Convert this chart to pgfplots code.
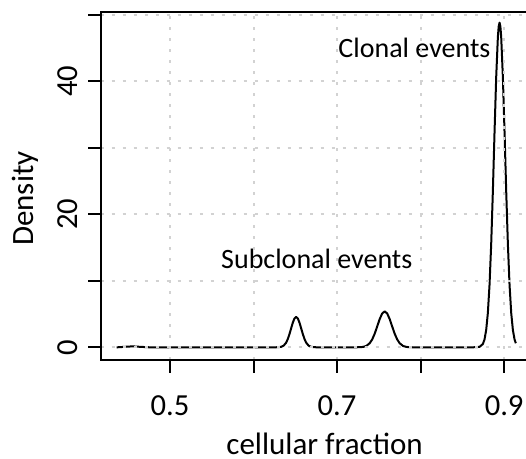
\documentclass[border=0pt]{standalone}
\usepackage{pgfplots}
\pgfplotsset{compat=1.18}
\usepackage{fontspec}
\setmainfont{Carlito}

% density of cellular fraction
\pgfplotstableread{
x y
0.436 0.00
0.446 0.08
0.455 0.15
0.464 0.08
0.475 0.01
0.490 0.00
0.560 0.00
0.626 0.00
0.633 0.07
0.636 0.25
0.639 0.70
0.641 1.25
0.643 1.99
0.645 2.86
0.647 3.71
0.649 4.34
0.651 4.57
0.653 4.34
0.655 3.71
0.657 2.86
0.659 1.99
0.661 1.25
0.663 0.70
0.666 0.25
0.669 0.07
0.676 0.00
0.722 0.00
0.731 0.06
0.735 0.21
0.739 0.61
0.742 1.18
0.745 2.04
0.748 3.13
0.751 4.24
0.754 5.09
0.757 5.41
0.760 5.09
0.763 4.24
0.766 3.13
0.769 2.04
0.772 1.18
0.775 0.61
0.779 0.21
0.783 0.06
0.792 0.00
0.862 0.00
0.8705 0.07
0.8745 0.49
0.8765 1.18
0.8785 2.59
0.8805 5.14
0.8825 9.35
0.8845 15.48
0.8865 23.41
0.8885 32.29
0.8905 40.61
0.8925 46.61
0.8935 48.25
0.8945 48.80
0.8955 48.25
0.8965 46.61
0.8985 40.61
0.9005 32.29
0.9025 23.41
0.9045 15.48
0.9065 9.35
0.9085 5.14
0.9105 2.59
0.9125 1.18
0.9140 0.62
}\densitydata

\begin{document}
\begin{tikzpicture}
\begin{axis}[
    name=ax,
    at={(0,0)}, anchor=south west,
    scale only axis,
    width=215.5pt, height=174.15pt,
    xmin=0.417, xmax=0.933,
    ymin=-1.9, ymax=50.45,
    axis on top,
    axis line style={line width=1pt},
    tick pos=left,
    tick align=outside,
    major tick length=6.3pt,
    tick style={line width=1pt, black},
    xtick={0.5,0.6,0.7,0.8,0.9},
    xticklabels={0.5,,0.7,,0.9},
    ytick={0,10,20,30,40,50},
    yticklabels={0,,20,,40,},
    /pgf/number format/assume math mode=true,
    ticklabel style={font=\fontsize{15.3}{18}\selectfont},
    xticklabel style={anchor=base, yshift=-21.7pt},
    yticklabel style={xshift=-5.45pt, rotate=90, anchor=base},
    grid=major,
    grid style={line width=1pt, color=gray!35, dash pattern=on 1.5pt off 4pt},
    xlabel={cellular fraction},
    ylabel={Density},
    label style={font=\fontsize{15.5}{18}\selectfont},
    xlabel style={at={(axis description cs:0.5195,0)}, anchor=base, inner sep=0pt, yshift=-47.5pt},
    ylabel style={at={([xshift=-33.6pt]axis description cs:0,0.4634)}, rotate=0, anchor=base},
]
\addplot[black, line width=1pt, line join=round] table[x=x, y=y] {\densitydata};
\node[anchor=base, font=\fontsize{14}{16}\selectfont] at (axis cs:0.7926,43.54) {Clonal events};
\node[anchor=base, font=\fontsize{14}{16}\selectfont] at (axis cs:0.6757,11.86) {Subclonal events};
\end{axis}
\pgfresetboundingbox
\path[use as bounding box] (-50.35pt,-49.5pt) rectangle (212.65pt,180pt);
\end{tikzpicture}
\end{document}
